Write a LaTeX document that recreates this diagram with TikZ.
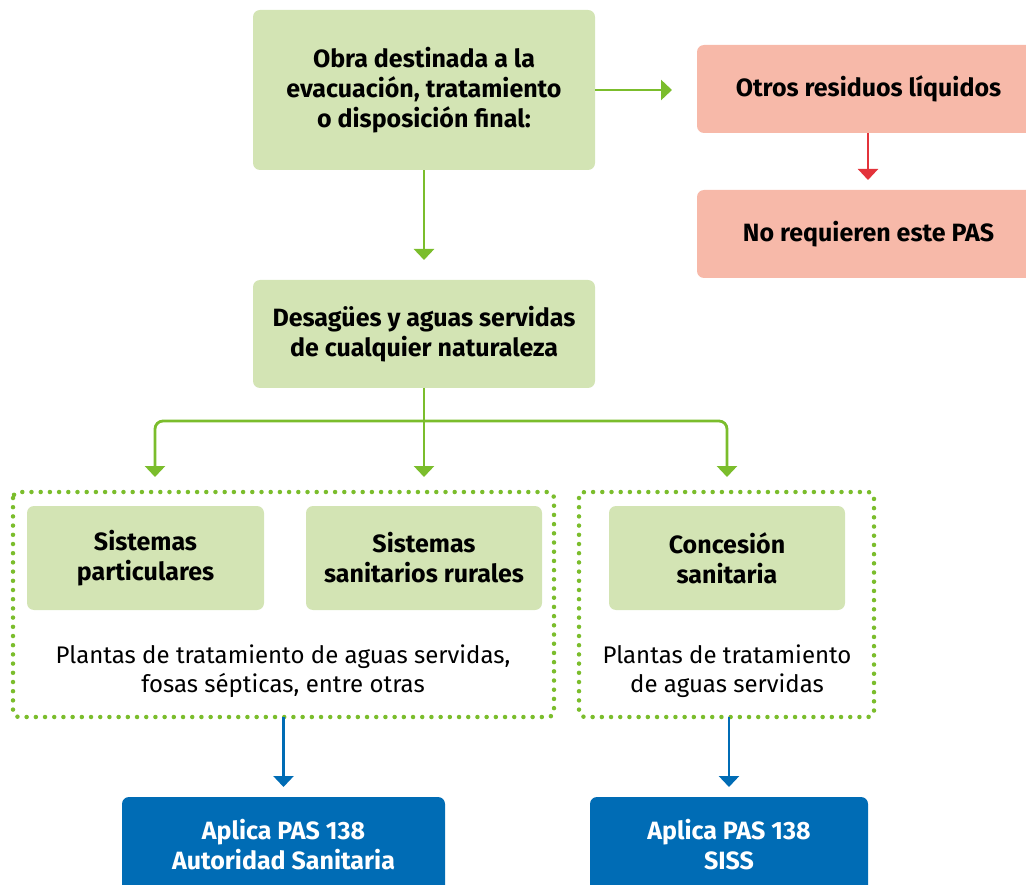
\documentclass[tikz,border=0pt]{standalone}
\usepackage{fontspec}
\setmainfont{Fira Sans}
\usetikzlibrary{positioning,arrows.meta}
\tikzset{>={Triangle[width=20pt,length=11pt]}}

\definecolor{boxgreen}{HTML}{D3E4B4}
\definecolor{linegreen}{HTML}{7BBD2C}
\definecolor{boxpink}{HTML}{F7B9A9}
\definecolor{linered}{HTML}{E3333B}
\definecolor{boxblue}{HTML}{006CB5}

\begin{document}
\begin{tikzpicture}[
    x=1pt, y=-1pt,
    greenbox/.style={
        fill=boxgreen,
        rounded corners=7pt,
        align=center,
        font=\fontsize{25}{30}\selectfont\bfseries,
        inner sep=0pt
    },
    pinkbox/.style={
        greenbox,
        fill=boxpink
    },
    bluebox/.style={
        greenbox,
        fill=boxblue,
        text=white
    },
    plaintext/.style={
        align=center,
        font=\fontsize{24}{29.5}\selectfont,
        inner sep=0pt
    },
    dotbox/.style={
        draw=linegreen,
        line width=4.5pt,
        line cap=round,
        dash pattern=on 0pt off 9.2pt,
        rounded corners=6pt
    },
    greenarrow/.style={->, draw=linegreen, line width=2.8pt},
    redarrow/.style={->, draw=linered, line width=2.2pt},
    bluearrow/.style={->, draw=boxblue, line width=2.8pt}
]
\clip (0,0) rectangle (1026,885);

\node[greenbox, minimum width=342pt, minimum height=160pt] (obra) at (424,90) {Obra destinada a la\\evacuación, tratamiento\\o disposición final:};

\node[pinkbox, minimum width=343pt, minimum height=88pt] (otros) at (868.5,89) {Otros residuos líquidos};
\node[pinkbox, minimum width=343pt, minimum height=88pt] (noreq) at (868.5,234) {No requieren este PAS};

\node[greenbox, minimum width=342pt, minimum height=108pt] (desag) at (424,334) {Desagües y aguas servidas\\de cualquier naturaleza};

\coordinate (otrosin) at (672,90);
\coordinate (noreqin) at (868,180);
\coordinate (desagin) at (424,260);

\draw[greenarrow] (obra.east |- otrosin) -- (otrosin);
\draw[redarrow] (otros.south -| noreqin) -- (noreqin);
\draw[greenarrow] (obra.south) -- (desagin);

% grupos punteados
\draw[dotbox] (13,492) rectangle (554,717);
\draw[dotbox] (579,492) rectangle (874,717);

\node[greenbox, minimum width=237pt, minimum height=104pt] (sispart) at (145.5,558) {Sistemas\\particulares};
\node[greenbox, minimum width=236pt, minimum height=104pt] (sisrur) at (424,558) {Sistemas\\sanitarios rurales};
\node[greenbox, minimum width=236pt, minimum height=104pt] (conces) at (727,558) {Concesión\\sanitaria};

\node[plaintext] (plantasizq) at (283,671) {Plantas de tratamiento de aguas servidas,\\fosas sépticas, entre otras};
\node[plaintext] (plantasder) at (727,671) {Plantas de tratamiento\\de aguas servidas};

\coordinate (branch) at (424,421);
\coordinate (izqin) at (155,477);
\coordinate (centin) at (424,477);
\coordinate (derin) at (727,477);

\draw[greenarrow] (desag.south) -- (centin);
\draw[greenarrow, rounded corners=8pt] (branch) -| (izqin);
\draw[greenarrow, rounded corners=8pt] (branch) -| (derin);

\node[bluebox, minimum width=323pt, minimum height=96pt] (autsan) at (283.5,845) {Aplica PAS 138\\Autoridad Sanitaria};
\node[bluebox, minimum width=278pt, minimum height=96pt] (siss) at (729,845) {Aplica PAS 138\\SISS};

\coordinate (izqout) at (283.5,717);
\coordinate (derout) at (729,717);

\draw[bluearrow] (izqout) -- (autsan.north |- 0,787);
\draw[bluearrow] (derout) -- (siss.north |- 0,787);

\end{tikzpicture}
\end{document}
